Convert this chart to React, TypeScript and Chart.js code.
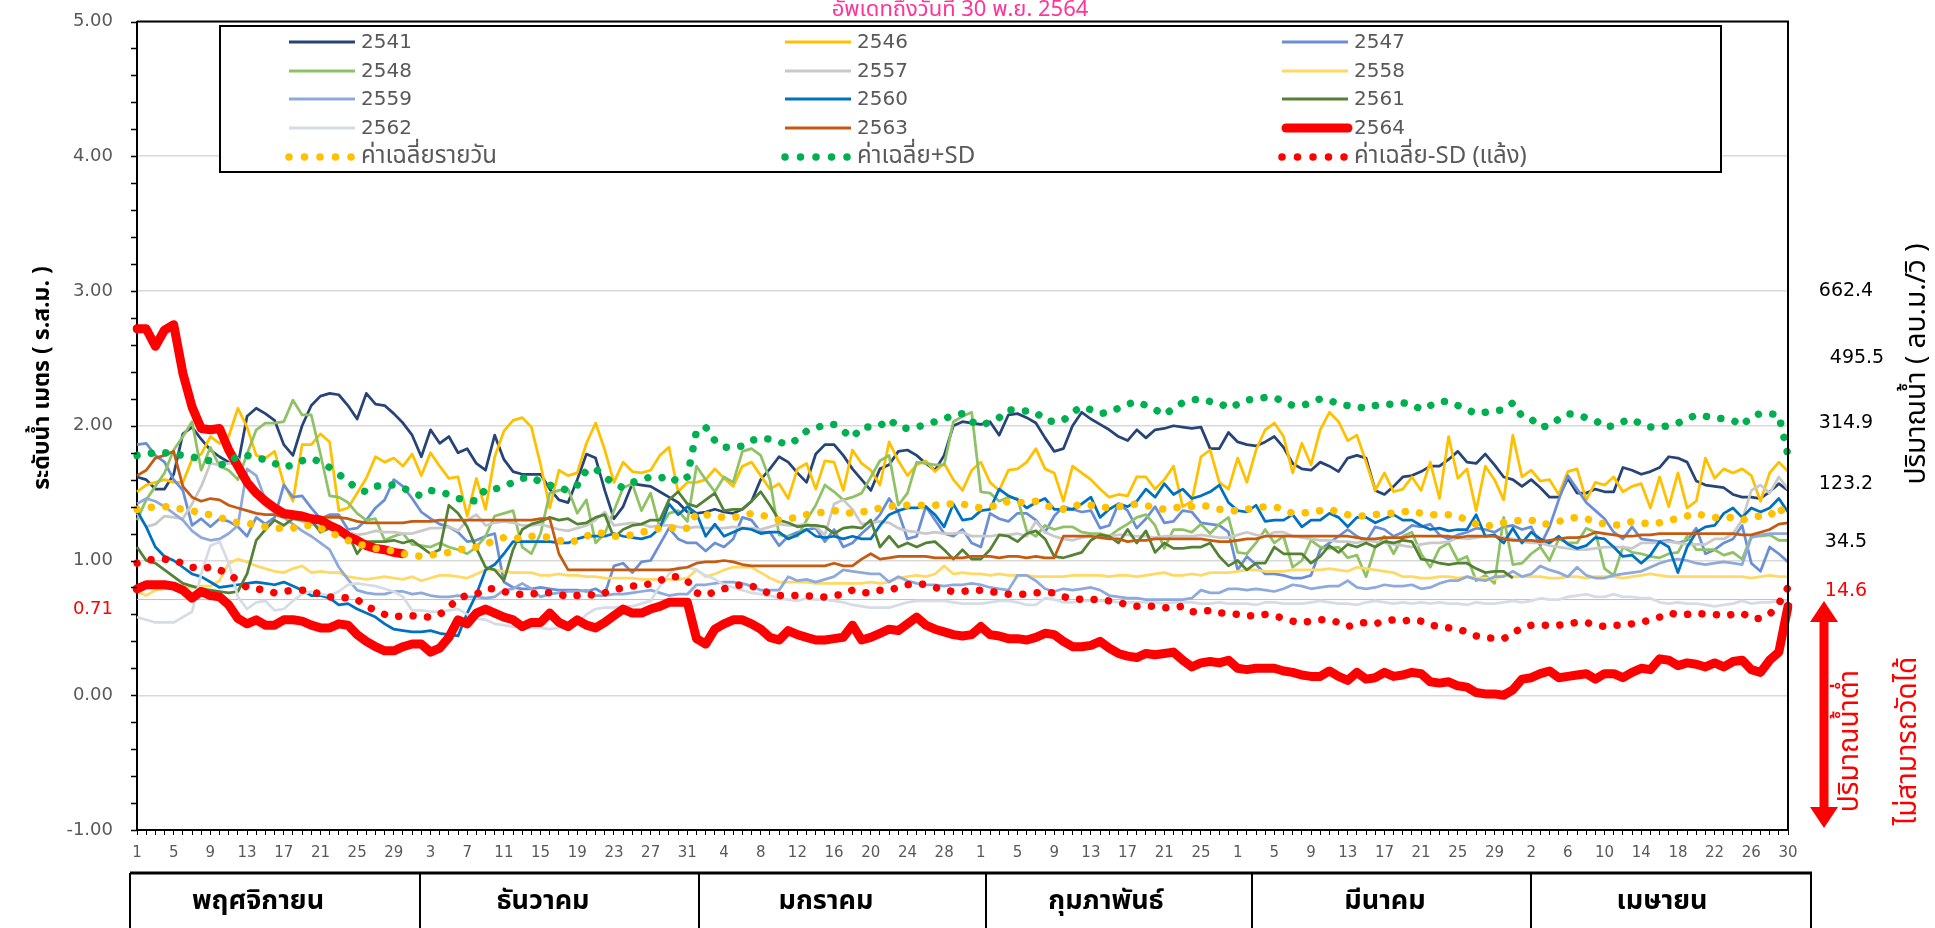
import React, { useEffect, useRef } from 'react';
import { Chart, registerables } from 'chart.js';

Chart.register(...registerables);

// ---------- categories ----------
const monthNames = ['พฤศจิกายน', 'ธันวาคม', 'มกราคม', 'กุมภาพันธ์', 'มีนาคม', 'เมษายน'];
const monthDays = [30, 31, 31, 28, 31, 30];
const dayLabels: string[] = monthDays.flatMap((n) => Array.from({ length: n }, (_, k) => String(k + 1)));

// ---------- series (water level, m r.s.m.) ----------
const y2541 = [
  1.62,1.60,1.53,1.53,1.64,1.94,1.99,1.90,1.82,1.77,
  1.73,1.71,2.07,2.13,2.09,2.04,1.86,1.78,2.00,2.15,
  2.22,2.24,2.23,2.15,2.05,2.24,2.16,2.15,2.09,2.02,
  1.93,1.77,1.97,1.87,1.92,1.80,1.83,1.72,1.67,1.93,
  1.75,1.66,1.64,1.64,1.64,1.53,1.45,1.43,1.60,1.79,
  1.76,1.52,1.31,1.40,1.57,1.56,1.55,1.51,1.47,1.43,
  1.36,1.35,1.36,1.38,1.36,1.35,1.38,1.44,1.60,1.68,
  1.77,1.73,1.65,1.58,1.79,1.86,1.86,1.78,1.68,1.60,
  1.52,1.68,1.71,1.81,1.82,1.78,1.72,1.67,1.78,2.00,
  2.03,2.02,2.01,2.03,1.93,2.08,2.09,2.06,2.02,1.91,
  1.81,1.83,2.00,2.10,2.05,2.01,1.97,1.92,1.89,1.97,
  1.91,1.97,1.98,2.00,1.99,1.98,1.99,1.83,1.83,1.95,
  1.88,1.86,1.85,1.88,1.92,1.84,1.72,1.68,1.67,1.73,
  1.70,1.66,1.76,1.78,1.76,1.52,1.49,1.55,1.62,1.63,
  1.66,1.70,1.70,1.75,1.81,1.73,1.72,1.79,1.71,1.62,
  1.60,1.55,1.60,1.54,1.47,1.47,1.61,1.50,1.50,1.53,
  1.51,1.51,1.69,1.67,1.64,1.66,1.69,1.77,1.76,1.73,
  1.59,1.56,1.55,1.54,1.49,1.47,1.47,1.46,1.51,1.57,1.52,
];
const y2546 = [
  1.51,1.56,1.58,1.60,1.58,1.58,1.75,1.79,1.92,1.87,
  1.92,2.13,1.99,1.78,1.76,1.81,1.57,1.44,1.86,1.86,
  1.94,1.88,1.37,1.39,1.50,1.61,1.77,1.73,1.76,1.70,
  1.79,1.63,1.80,1.70,1.61,1.62,1.33,1.61,1.38,1.77,
  1.96,2.04,2.06,1.99,1.71,1.39,1.67,1.63,1.65,1.87,
  2.02,1.82,1.58,1.73,1.66,1.65,1.67,1.78,1.84,1.51,
  1.58,1.58,1.60,1.68,1.61,1.55,1.70,1.73,1.63,1.53,
  1.57,1.46,1.68,1.72,1.53,1.74,1.73,1.52,1.82,1.72,
  1.67,1.56,1.88,1.74,1.63,1.71,1.74,1.66,1.72,1.60,
  1.52,1.67,1.73,1.58,1.52,1.67,1.68,1.73,1.83,1.68,
  1.65,1.44,1.70,1.65,1.60,1.53,1.47,1.49,1.48,1.62,
  1.62,1.53,1.60,1.70,1.40,1.44,1.77,1.82,1.58,1.53,
  1.76,1.58,1.82,1.97,2.02,1.92,1.65,1.87,1.71,1.97,
  2.10,2.03,1.89,1.93,1.73,1.52,1.65,1.51,1.53,1.62,
  1.52,1.73,1.46,1.92,1.61,1.68,1.37,1.70,1.60,1.45,
  1.93,1.62,1.67,1.59,1.60,1.49,1.66,1.68,1.45,1.58,
  1.56,1.62,1.51,1.55,1.57,1.39,1.62,1.40,1.65,1.39,
  1.44,1.76,1.61,1.68,1.65,1.68,1.63,1.44,1.65,1.73,1.66,
];
const y2547 = [
  1.86,1.87,1.78,1.73,1.60,1.52,1.26,1.31,1.25,1.31,
  1.29,1.25,1.18,1.32,1.27,1.32,1.56,1.47,1.48,1.39,
  1.31,1.34,1.34,1.23,1.24,1.30,1.39,1.45,1.60,1.55,
  1.46,1.36,1.31,1.27,1.25,1.21,1.14,1.15,1.18,1.20,
  0.84,0.80,0.79,0.79,0.80,0.79,0.78,0.78,0.78,0.77,
  0.79,0.75,0.96,0.98,0.91,0.99,1.00,1.12,1.24,1.16,
  1.13,1.13,1.07,1.13,1.10,1.16,1.32,1.30,1.21,1.21,
  1.11,1.18,1.21,1.23,1.24,1.14,1.23,1.10,1.13,1.20,
  1.26,1.34,1.46,1.36,1.16,1.18,1.40,1.30,1.20,1.18,
  1.23,1.13,1.10,1.35,1.31,1.29,1.35,1.35,1.30,1.21,
  1.33,1.40,1.38,1.36,1.37,1.24,1.26,1.42,1.37,1.24,
  1.31,1.40,1.28,1.29,1.37,1.36,1.28,1.27,1.26,1.21,
  0.93,1.03,0.97,0.90,0.90,0.89,0.87,0.87,0.89,1.08,
  1.13,1.18,1.23,1.18,1.14,1.25,1.23,1.18,1.21,1.26,
  1.25,1.27,1.19,1.16,1.19,1.21,1.24,1.23,1.21,1.25,
  1.26,1.23,1.25,1.11,1.25,1.45,1.63,1.53,1.43,1.37,
  1.31,1.21,1.16,1.25,1.16,1.15,1.14,1.15,1.13,1.15,
  1.24,1.05,1.08,1.13,1.16,1.26,0.98,0.92,1.10,1.05,0.99,
];
const y2548 = [
  1.30,1.45,1.55,1.65,1.82,1.92,2.03,1.67,1.84,1.70,
  1.67,1.60,1.79,1.97,2.02,2.02,2.03,2.19,2.08,2.08,
  1.79,1.48,1.47,1.43,1.35,1.30,1.31,1.15,1.18,1.20,
  1.12,1.11,1.10,1.13,1.10,1.08,1.05,1.10,1.18,1.33,
  1.35,1.37,1.10,1.05,1.20,1.50,1.52,1.53,1.35,1.45,
  1.13,1.20,1.37,1.54,1.57,1.37,1.50,1.24,1.35,1.37,
  1.29,1.70,1.60,1.51,1.62,1.58,1.81,1.83,1.78,1.60,
  1.19,1.18,1.18,1.30,1.41,1.56,1.51,1.45,1.47,1.50,
  1.62,1.74,1.78,1.41,1.50,1.73,1.72,1.71,1.71,2.03,
  2.07,2.10,1.51,1.50,1.44,1.47,1.46,1.22,1.18,1.26,
  1.23,1.25,1.25,1.21,1.20,1.20,1.18,1.23,1.27,1.32,
  1.34,1.26,1.09,1.23,1.23,1.21,1.27,1.20,1.27,1.32,
  1.06,1.05,1.13,1.23,1.13,1.18,0.95,1.00,1.15,1.10,
  1.09,1.10,1.02,1.04,0.88,1.10,1.18,1.05,1.18,1.21,
  1.05,0.95,1.09,1.13,1.00,1.03,0.85,0.89,0.83,1.32,
  0.97,0.98,1.05,1.10,1.00,1.16,1.13,1.13,1.24,1.21,
  0.94,0.89,1.10,1.06,1.05,1.03,1.02,1.05,1.06,1.18,
  1.08,1.08,1.08,1.04,1.06,1.01,1.18,1.18,1.19,1.15,1.15,
];
const y2557 = [
  1.35,1.25,1.27,1.33,1.32,1.31,1.42,1.55,1.72,1.71,
  1.72,1.76,1.60,1.50,1.40,1.36,1.33,1.31,1.29,1.27,
  1.25,1.24,1.22,1.21,1.19,1.20,1.22,1.21,1.21,1.20,
  1.20,1.22,1.24,1.24,1.25,1.22,1.30,1.34,1.26,1.28,
  1.29,1.28,1.26,1.26,1.27,1.25,1.23,1.22,1.24,1.26,
  1.30,1.36,1.26,1.27,1.28,1.27,1.25,1.26,1.26,1.25,
  1.24,1.25,1.24,1.24,1.24,1.25,1.24,1.24,1.23,1.25,
  1.27,1.26,1.26,1.27,1.25,1.19,1.42,1.45,1.38,1.27,
  1.28,1.29,1.28,1.24,1.22,1.21,1.20,1.21,1.20,1.20,
  1.21,1.18,1.18,1.18,1.19,1.19,1.20,1.18,1.29,1.21,
  1.18,1.16,1.15,1.17,1.18,1.18,1.18,1.19,1.19,1.18,
  1.18,1.17,1.18,1.18,1.18,1.18,1.19,1.18,1.17,1.17,
  1.19,1.21,1.19,1.18,1.21,1.21,1.18,1.17,1.16,1.15,
  1.15,1.14,1.14,1.13,1.15,1.14,1.13,1.12,1.11,1.10,
  1.12,1.13,1.13,1.14,1.17,1.16,1.17,1.18,1.18,1.17,
  1.16,1.14,1.13,1.13,1.11,1.10,1.09,1.08,1.08,1.09,
  1.10,1.10,1.10,1.09,1.13,1.13,1.13,1.14,1.13,1.12,
  1.12,1.12,1.16,1.16,1.20,1.30,1.52,1.56,1.50,1.62,1.53,
];
const y2558 = [
  0.77,0.74,0.78,0.79,0.81,0.80,0.80,0.81,0.81,0.85,
  0.98,1.01,0.99,0.96,0.94,0.92,0.91,0.94,0.96,0.91,
  0.92,0.91,0.91,0.88,0.87,0.86,0.87,0.88,0.87,0.86,
  0.88,0.85,0.87,0.89,0.89,0.88,0.87,0.90,0.93,0.93,
  0.92,0.91,0.91,0.91,0.89,0.89,0.90,0.89,0.89,0.88,
  0.88,0.87,0.87,0.87,0.87,0.86,0.86,0.86,0.86,0.86,
  0.87,0.93,0.88,0.90,0.93,0.95,0.95,0.95,0.91,0.87,
  0.84,0.84,0.84,0.84,0.83,0.83,0.83,0.83,0.83,0.83,
  0.84,0.83,0.84,0.87,0.88,0.89,0.88,0.90,0.96,0.90,
  0.91,0.90,0.90,0.89,0.90,0.89,0.89,0.89,0.88,0.88,
  0.88,0.88,0.89,0.89,0.89,0.89,0.88,0.89,0.89,0.88,
  0.89,0.90,0.91,0.89,0.89,0.90,0.89,0.91,0.91,0.91,
  0.92,0.93,0.93,0.92,0.92,0.92,0.93,0.93,0.93,0.93,
  0.94,0.93,0.92,0.95,0.94,0.93,0.92,0.91,0.88,0.88,
  0.87,0.87,0.88,0.88,0.87,0.88,0.87,0.87,0.86,0.89,
  0.88,0.88,0.88,0.88,0.87,0.87,0.88,0.88,0.87,0.88,
  0.88,0.88,0.87,0.88,0.89,0.90,0.89,0.88,0.88,0.88,
  0.88,0.88,0.88,0.88,0.88,0.88,0.87,0.88,0.89,0.88,0.88,
];
const y2559 = [
  1.42,1.46,1.44,1.40,1.35,1.30,1.22,1.17,1.15,1.16,
  1.20,1.26,1.68,1.63,1.45,1.35,1.32,1.27,1.22,1.18,
  1.13,1.08,0.95,0.86,0.78,0.76,0.75,0.75,0.77,0.77,
  0.75,0.76,0.74,0.73,0.73,0.74,0.73,0.73,0.72,0.73,
  0.78,0.79,0.83,0.79,0.73,0.75,0.76,0.77,0.77,0.78,
  0.74,0.74,0.75,0.75,0.76,0.77,0.78,0.76,0.74,0.75,
  0.75,0.82,0.82,0.83,0.84,0.84,0.83,0.81,0.78,0.78,
  0.78,0.88,0.85,0.86,0.84,0.86,0.88,0.93,0.92,0.91,
  0.90,0.90,0.84,0.88,0.85,0.83,0.82,0.82,0.81,0.82,
  0.82,0.83,0.82,0.80,0.79,0.78,0.89,0.89,0.85,0.79,
  0.77,0.79,0.78,0.79,0.80,0.78,0.74,0.73,0.72,0.72,
  0.71,0.71,0.71,0.71,0.71,0.72,0.78,0.76,0.76,0.79,
  0.79,0.78,0.79,0.78,0.77,0.79,0.82,0.81,0.79,0.80,
  0.81,0.81,0.85,0.80,0.79,0.80,0.82,0.81,0.81,0.82,
  0.79,0.80,0.83,0.85,0.85,0.88,0.86,0.85,0.88,0.88,
  0.92,0.88,0.90,0.96,0.93,0.91,0.88,0.95,0.89,0.87,
  0.87,0.89,0.90,0.91,0.92,0.95,0.98,1.00,1.01,1.00,
  0.98,0.97,0.98,0.99,0.98,0.97,1.17,1.19,1.20,1.20,1.20,
];
const y2560 = [
  1.37,1.25,1.10,1.03,1.00,0.95,0.90,0.88,0.84,0.80,
  0.81,0.82,0.83,0.84,0.83,0.82,0.84,0.81,0.78,0.74,
  0.74,0.72,0.67,0.68,0.64,0.61,0.58,0.53,0.49,0.48,
  0.47,0.47,0.48,0.46,0.45,0.44,0.61,0.75,0.93,0.97,
  1.05,1.14,1.14,1.14,1.14,1.14,1.13,1.13,1.16,1.18,
  1.18,1.18,1.20,1.18,1.17,1.16,1.18,1.24,1.42,1.34,
  1.40,1.35,1.18,1.27,1.18,1.21,1.24,1.23,1.20,1.21,
  1.21,1.16,1.19,1.23,1.18,1.17,1.18,1.16,1.18,1.16,
  1.16,1.26,1.34,1.37,1.39,1.39,1.40,1.34,1.25,1.42,
  1.30,1.31,1.37,1.38,1.53,1.48,1.45,1.39,1.43,1.46,
  1.38,1.38,1.38,1.42,1.47,1.32,1.38,1.42,1.40,1.44,
  1.53,1.47,1.57,1.49,1.53,1.46,1.48,1.51,1.56,1.43,
  1.37,1.36,1.41,1.29,1.30,1.30,1.34,1.25,1.30,1.30,
  1.35,1.32,1.25,1.32,1.32,1.28,1.31,1.34,1.30,1.30,
  1.26,1.23,1.24,1.22,1.23,1.23,1.34,1.18,1.19,1.13,
  1.24,1.13,1.21,1.16,1.13,1.18,1.12,1.09,1.11,1.17,
  1.16,1.10,1.03,1.04,0.98,1.04,1.14,1.10,0.91,1.10,
  1.21,1.25,1.26,1.35,1.39,1.32,1.39,1.36,1.39,1.46,1.36,
];
const y2561 = [
  1.10,1.00,0.98,0.93,0.88,0.83,0.81,0.79,0.78,0.77,
  0.76,0.77,0.90,1.15,1.23,1.30,1.26,1.31,1.30,1.30,
  1.21,1.24,1.23,1.20,1.05,1.14,1.14,1.14,1.15,1.13,
  1.15,1.10,1.05,1.08,1.41,1.35,1.25,1.09,0.95,0.93,
  0.85,1.08,1.23,1.27,1.29,1.32,1.30,1.31,1.27,1.28,
  1.32,1.34,1.17,1.23,1.26,1.27,1.30,1.30,1.45,1.51,
  1.42,1.40,1.45,1.50,1.37,1.38,1.38,1.44,1.51,1.41,
  1.30,1.28,1.25,1.26,1.26,1.25,1.20,1.24,1.25,1.24,
  1.30,1.10,1.18,1.10,1.13,1.10,1.13,1.14,1.08,1.01,
  1.08,1.01,1.01,1.08,1.19,1.18,1.14,1.20,1.22,1.16,
  1.03,1.02,1.04,1.06,1.15,1.19,1.18,1.13,1.23,1.13,
  1.22,1.06,1.13,1.09,1.09,1.10,1.10,1.13,1.03,0.96,
  1.00,0.93,0.98,0.98,1.10,1.05,1.05,1.05,0.98,1.03,
  1.11,1.06,1.12,1.10,1.13,1.10,1.14,1.13,1.15,1.14,
  1.01,1.00,0.98,0.97,0.98,0.98,0.94,0.91,0.92,0.92,
  0.87,
  ...Array(30).fill(null),
];
const y2562 = [
  0.58,0.56,0.54,0.54,0.54,0.58,0.62,0.90,1.11,1.14,
  0.98,0.73,0.64,0.69,0.70,0.63,0.64,0.70,0.75,0.77,
  0.75,0.74,0.77,0.82,0.83,0.82,0.81,0.79,0.77,0.73,
  0.63,0.63,0.62,0.62,0.63,0.64,0.60,0.57,0.56,0.53,
  0.52,0.51,0.51,0.50,0.50,0.49,0.50,0.50,0.53,0.60,
  0.64,0.65,0.65,0.66,0.66,0.68,0.70,0.81,0.90,0.95,
  0.95,0.93,0.89,0.86,0.82,0.80,0.78,0.76,0.75,0.74,
  0.72,0.71,0.70,0.72,0.71,0.71,0.70,0.69,0.67,0.66,
  0.65,0.65,0.65,0.67,0.69,0.70,0.70,0.70,0.70,0.69,
  0.68,0.68,0.68,0.69,0.70,0.70,0.69,0.67,0.67,0.72,
  0.71,0.69,0.69,0.70,0.70,0.70,0.70,0.69,0.69,0.69,
  0.69,0.69,0.68,0.69,0.69,0.69,0.68,0.68,0.69,0.68,
  0.68,0.68,0.67,0.69,0.69,0.68,0.68,0.68,0.69,0.70,
  0.69,0.68,0.68,0.67,0.69,0.70,0.69,0.68,0.69,0.68,
  0.69,0.68,0.69,0.68,0.68,0.67,0.69,0.68,0.68,0.69,
  0.70,0.69,0.70,0.72,0.71,0.71,0.73,0.74,0.75,0.73,
  0.73,0.75,0.73,0.73,0.72,0.72,0.69,0.68,0.69,0.68,
  0.68,0.67,0.66,0.67,0.68,0.70,0.68,0.69,0.69,0.70,0.70,
];
const y2563 = [
  1.63,1.67,1.76,1.78,1.81,1.55,1.47,1.44,1.46,1.45,
  1.41,1.39,1.37,1.35,1.34,1.34,1.32,1.32,1.32,1.32,
  1.32,1.32,1.32,1.31,1.29,1.28,1.28,1.28,1.28,1.28,
  1.29,1.29,1.29,1.30,1.30,1.30,1.30,1.30,1.30,1.30,
  1.30,1.30,1.30,1.30,1.31,1.31,1.05,0.93,0.93,0.93,
  0.93,0.93,0.93,0.93,0.93,0.93,0.93,0.93,0.93,0.94,
  0.95,0.98,0.99,0.99,1.00,0.99,0.97,0.96,0.96,0.96,
  0.96,0.96,0.96,0.96,0.96,0.96,0.98,0.96,0.96,1.01,
  1.05,1.01,1.02,1.03,1.03,1.03,1.03,1.02,1.02,1.02,
  1.02,1.03,1.03,1.03,1.02,1.03,1.03,1.02,1.03,1.02,
  1.02,1.18,1.18,1.18,1.18,1.17,1.16,1.16,1.14,1.15,
  1.15,1.16,1.16,1.16,1.16,1.16,1.16,1.15,1.14,1.14,
  1.15,1.16,1.16,1.18,1.18,1.18,1.18,1.18,1.18,1.18,
  1.18,1.18,1.18,1.17,1.16,1.16,1.17,1.17,1.17,1.18,
  1.18,1.18,1.18,1.18,1.17,1.18,1.18,1.18,1.18,1.16,
  1.15,1.15,1.15,1.14,1.15,1.16,1.17,1.17,1.18,1.21,
  1.20,1.19,1.18,1.18,1.19,1.19,1.20,1.20,1.20,1.20,
  1.20,1.20,1.20,1.20,1.20,1.19,1.19,1.21,1.23,1.27,1.28,
];
const y2564 = [
  2.72,2.72,2.59,2.71,2.75,2.39,2.14,1.98,1.97,1.98,
  1.82,1.70,1.58,1.50,1.44,1.39,1.35,1.34,1.33,1.31,
  1.30,1.26,1.23,1.18,1.15,1.11,1.09,1.08,1.06,1.05,
  ...Array(151).fill(null),
];
const yLowest = [
  0.79,0.82,0.82,0.82,0.81,0.78,0.72,0.77,0.74,0.73,
  0.67,0.57,0.53,0.56,0.52,0.52,0.56,0.56,0.55,0.52,
  0.50,0.50,0.53,0.52,0.45,0.40,0.36,0.33,0.33,0.36,
  0.38,0.38,0.32,0.35,0.43,0.56,0.53,0.61,0.64,0.61,
  0.58,0.56,0.51,0.54,0.54,0.61,0.54,0.51,0.56,0.52,
  0.50,0.54,0.59,0.64,0.61,0.61,0.64,0.66,0.69,0.69,
  0.69,0.42,0.38,0.49,0.53,0.56,0.56,0.53,0.49,0.43,
  0.41,0.48,0.45,0.43,0.41,0.41,0.42,0.43,0.52,0.41,
  0.43,0.46,0.49,0.48,0.53,0.58,0.52,0.49,0.47,0.45,
  0.44,0.45,0.51,0.45,0.44,0.42,0.42,0.41,0.43,0.46,
  0.45,0.40,0.36,0.36,0.37,0.40,0.35,0.31,0.29,0.28,
  0.31,0.30,0.31,0.32,0.26,0.21,0.24,0.25,0.24,0.26,
  0.20,0.19,0.20,0.20,0.20,0.18,0.17,0.15,0.14,0.14,
  0.18,0.14,0.11,0.17,0.12,0.13,0.17,0.14,0.15,0.17,
  0.16,0.10,0.09,0.10,0.07,0.06,0.02,0.01,0.01,0.00,
  0.04,0.12,0.13,0.16,0.18,0.13,0.14,0.15,0.16,0.12,
  0.16,0.16,0.13,0.17,0.20,0.19,0.27,0.26,0.22,0.24,
  0.23,0.21,0.24,0.21,0.25,0.26,0.19,0.17,0.26,0.32,0.66,
];
const yMean = [
  1.38,1.39,1.40,1.40,1.39,1.38,1.37,1.35,1.34,1.32,
  1.30,1.28,1.28,1.26,1.25,1.24,1.24,1.24,1.26,1.26,
  1.24,1.21,1.18,1.15,1.12,1.11,1.09,1.08,1.07,1.05,
  1.04,1.03,1.04,1.05,1.06,1.08,1.09,1.10,1.12,1.15,
  1.17,1.16,1.17,1.18,1.18,1.17,1.15,1.13,1.15,1.18,
  1.21,1.20,1.18,1.18,1.19,1.21,1.22,1.24,1.25,1.23,
  1.24,1.35,1.34,1.33,1.32,1.32,1.33,1.35,1.34,1.32,
  1.30,1.31,1.32,1.34,1.35,1.36,1.37,1.36,1.35,1.36,
  1.37,1.39,1.40,1.41,1.41,1.41,1.41,1.41,1.42,1.42,
  1.42,1.40,1.39,1.40,1.41,1.44,1.43,1.43,1.44,1.41,
  1.39,1.38,1.40,1.42,1.41,1.40,1.39,1.40,1.41,1.42,
  1.41,1.39,1.38,1.39,1.40,1.40,1.41,1.40,1.38,1.37,
  1.37,1.38,1.39,1.40,1.40,1.38,1.35,1.35,1.36,1.37,
  1.38,1.36,1.34,1.33,1.33,1.34,1.35,1.35,1.36,1.37,
  1.35,1.34,1.34,1.34,1.33,1.30,1.27,1.25,1.27,1.28,
  1.29,1.30,1.30,1.27,1.27,1.29,1.31,1.32,1.31,1.29,
  1.27,1.26,1.27,1.29,1.28,1.27,1.28,1.30,1.31,1.33,
  1.35,1.33,1.32,1.32,1.32,1.30,1.32,1.33,1.33,1.40,1.30,
];
const yMeanPlusSD = [
  1.78,1.79,1.80,1.80,1.79,1.78,1.77,1.75,1.74,1.71,
  1.72,1.78,1.78,1.76,1.75,1.72,1.69,1.71,1.74,1.76,
  1.73,1.69,1.64,1.59,1.53,1.51,1.55,1.56,1.56,1.54,
  1.50,1.48,1.52,1.51,1.49,1.46,1.45,1.44,1.53,1.53,
  1.55,1.58,1.61,1.62,1.58,1.56,1.54,1.52,1.56,1.67,
  1.68,1.62,1.57,1.54,1.58,1.60,1.62,1.61,1.63,1.58,
  1.62,1.96,1.99,1.89,1.84,1.84,1.85,1.89,1.91,1.90,
  1.88,1.86,1.90,1.96,1.98,2.01,2.01,1.96,1.91,1.99,
  1.99,2.00,2.05,1.99,1.98,1.99,2.01,2.03,2.05,2.08,
  2.09,2.03,2.00,2.03,2.06,2.12,2.11,2.11,2.10,2.04,
  2.03,2.04,2.10,2.14,2.12,2.09,2.10,2.13,2.16,2.18,
  2.15,2.12,2.08,2.13,2.17,2.19,2.20,2.18,2.17,2.13,
  2.16,2.19,2.20,2.21,2.21,2.18,2.15,2.15,2.17,2.20,
  2.19,2.16,2.15,2.14,2.13,2.15,2.16,2.16,2.17,2.16,
  2.12,2.15,2.18,2.18,2.15,2.12,2.09,2.10,2.11,2.12,
  2.17,2.07,2.05,1.99,2.00,2.05,2.09,2.08,2.06,2.04,
  1.99,2.00,2.03,2.05,2.01,1.99,1.99,2.00,2.02,2.05,
  2.08,2.07,2.06,2.05,2.04,2.00,2.07,2.09,2.09,2.08,1.78,
];
const yMeanMinusSD = [
  0.98,1.00,1.01,1.01,1.00,0.98,0.95,0.94,0.95,0.93,
  0.90,0.85,0.80,0.79,0.78,0.76,0.77,0.78,0.78,0.77,
  0.75,0.73,0.73,0.72,0.71,0.66,0.63,0.60,0.58,0.59,
  0.59,0.58,0.58,0.60,0.65,0.72,0.74,0.75,0.79,0.79,
  0.77,0.75,0.75,0.75,0.76,0.76,0.75,0.73,0.74,0.75,
  0.74,0.76,0.78,0.80,0.81,0.81,0.83,0.85,0.88,0.88,
  0.85,0.76,0.74,0.77,0.79,0.81,0.82,0.81,0.79,0.75,
  0.74,0.74,0.74,0.74,0.73,0.73,0.74,0.75,0.78,0.76,
  0.76,0.78,0.78,0.80,0.82,0.83,0.82,0.80,0.78,0.77,
  0.77,0.78,0.78,0.77,0.76,0.75,0.75,0.75,0.76,0.76,
  0.76,0.73,0.72,0.71,0.71,0.71,0.70,0.69,0.67,0.66,
  0.66,0.66,0.65,0.65,0.66,0.62,0.62,0.63,0.61,0.61,
  0.60,0.59,0.59,0.60,0.59,0.57,0.55,0.54,0.55,0.56,
  0.56,0.54,0.51,0.53,0.54,0.53,0.55,0.56,0.55,0.56,
  0.55,0.52,0.51,0.50,0.49,0.47,0.44,0.43,0.42,0.42,
  0.46,0.50,0.52,0.52,0.52,0.52,0.53,0.54,0.54,0.52,
  0.51,0.52,0.52,0.53,0.54,0.56,0.58,0.61,0.60,0.60,
  0.61,0.60,0.60,0.59,0.60,0.61,0.57,0.57,0.60,0.68,0.80,
];

// right-hand discharge labels (m3/s) and the water levels they sit at
const flowLabels = ['662.4', '495.5', '314.9', '123.2', '34.5', '14.6'];
const flowLevels = [3.0, 2.5, 2.02, 1.57, 1.14, 0.77];
const criticalLevel = 0.71;

const THAI = "'Noto Sans Thai', 'Noto Sans Thai UI', Tahoma, 'Leelawadee UI', Loma, Garuda, Waree, Kinnari, 'DejaVu Sans', sans-serif";
const NUM = "'DejaVu Sans', Verdana, sans-serif";
const MIX = "'DejaVu Sans', 'Noto Sans Thai', Tahoma, Loma, Garuda, Waree, sans-serif";

type Kind = 'line' | 'thick' | 'dots';
interface Def { label: string; data: (number | null)[]; color: string; kind: Kind; legend: boolean }

const defs: Def[] = [
  { label: '2541', data: y2541, color: '#264478', kind: 'line', legend: true },
  { label: '2546', data: y2546, color: '#FFC000', kind: 'line', legend: true },
  { label: '2547', data: y2547, color: '#6B8FD6', kind: 'line', legend: true },
  { label: '2548', data: y2548, color: '#8FC165', kind: 'line', legend: true },
  { label: '2557', data: y2557, color: '#C9C9C9', kind: 'line', legend: true },
  { label: '2558', data: y2558, color: '#FFD966', kind: 'line', legend: true },
  { label: '2559', data: y2559, color: '#8EA9DB', kind: 'line', legend: true },
  { label: '2560', data: y2560, color: '#0070C0', kind: 'line', legend: true },
  { label: '2561', data: y2561, color: '#548235', kind: 'line', legend: true },
  { label: '2562', data: y2562, color: '#D6DCE5', kind: 'line', legend: true },
  { label: '2563', data: y2563, color: '#C55A11', kind: 'line', legend: true },
  { label: 'ต่ำสุด', data: yLowest, color: '#FF0000', kind: 'thick', legend: false },
  { label: '2564', data: y2564, color: '#FF0000', kind: 'thick', legend: true },
  { label: 'ค่าเฉลี่ยรายวัน', data: yMean, color: '#FFC000', kind: 'dots', legend: true },
  { label: 'ค่าเฉลี่ย+SD', data: yMeanPlusSD, color: '#00B050', kind: 'dots', legend: true },
  { label: 'ค่าเฉลี่ย-SD (แล้ง)', data: yMeanMinusSD, color: '#FF0000', kind: 'dots', legend: true },
];

const DOT_DASH = [0.001, 14.5];

function styleLine(ctx: CanvasRenderingContext2D, kind: Kind, color: string) {
  ctx.strokeStyle = color;
  if (kind === 'dots') {
    ctx.lineWidth = 7.5; ctx.lineCap = 'round'; ctx.setLineDash([0.001, 15.5]);
  } else if (kind === 'thick') {
    ctx.lineWidth = 9; ctx.lineCap = 'round'; ctx.setLineDash([]);
  } else {
    ctx.lineWidth = 3; ctx.lineCap = 'butt'; ctx.setLineDash([]);
  }
}

const annotations = {
  id: 'annotations',
  beforeDatasetsDraw(chart: any) {
    const { ctx, chartArea: a, scales } = chart;
    const py = scales.y.getPixelForValue(criticalLevel);
    ctx.save();
    ctx.strokeStyle = '#BFBFBF';
    ctx.lineWidth = 1;
    ctx.beginPath(); ctx.moveTo(a.left, py); ctx.lineTo(a.right, py); ctx.stroke();
    ctx.restore();
  },
  afterDraw(chart: any) {
    const { ctx, chartArea: a, scales } = chart;
    const y = scales.y;
    ctx.save();

    // plot border (top/right)
    ctx.strokeStyle = '#000'; ctx.lineWidth = 2;
    ctx.beginPath(); ctx.moveTo(a.left, a.top); ctx.lineTo(a.right, a.top); ctx.lineTo(a.right, a.bottom); ctx.stroke();

    // left axis minor/major ticks
    ctx.lineWidth = 1.5;
    for (let k = 0; k <= 30; k++) {
      const v = -1 + k * 0.2;
      const py = Math.round(y.getPixelForValue(v)) + 0.5;
      ctx.beginPath(); ctx.moveTo(a.left - 6, py); ctx.lineTo(a.left, py); ctx.stroke();
    }

    // title (top partly cut off)
    ctx.fillStyle = '#FF3399';
    ctx.font = `22px ${THAI}`;
    ctx.textAlign = 'center'; ctx.textBaseline = 'alphabetic';
    ctx.fillText('อัพเดทถึงวันที่ 30 พ.ย. 2564', 960, 16);

    // critical level label
    ctx.fillStyle = '#FF0000';
    ctx.font = `18px ${NUM}`;
    ctx.textAlign = 'right'; ctx.textBaseline = 'middle';
    ctx.fillText(criticalLevel.toFixed(2), 113, y.getPixelForValue(criticalLevel) + 10);

    // left axis title
    ctx.save();
    ctx.translate(44, 378); ctx.rotate(-Math.PI / 2);
    ctx.fillStyle = '#000'; ctx.font = `bold 23px ${THAI}`;
    ctx.textAlign = 'center'; ctx.textBaseline = 'middle';
    ctx.fillText('ระดับน้ำ เมตร ( ร.ส.ม. )', 0, 0);
    ctx.restore();

    // right axis title
    ctx.save();
    ctx.translate(1919, 364); ctx.rotate(-Math.PI / 2);
    ctx.fillStyle = '#000'; ctx.font = `28px ${THAI}`;
    ctx.textAlign = 'center'; ctx.textBaseline = 'middle';
    ctx.fillText('ปริมาณน้ำ ( ลบ.ม./วิ )', 0, 0);
    ctx.restore();

    // discharge labels
    ctx.font = `19px ${NUM}`;
    ctx.textAlign = 'center'; ctx.textBaseline = 'middle';
    flowLabels.forEach((t, k) => {
      ctx.fillStyle = k === flowLabels.length - 1 ? '#FF0000' : '#000';
      ctx.fillText(t, k === 1 ? 1857 : 1846, y.getPixelForValue(flowLevels[k]));
    });

    // red double arrow
    const ax = 1824, top = y.getPixelForValue(0.70), bot = a.bottom - 2;
    ctx.fillStyle = '#FF0000';
    ctx.fillRect(ax - 4.5, top + 18, 9, bot - top - 36);
    ctx.beginPath(); ctx.moveTo(ax, top); ctx.lineTo(ax - 14, top + 21); ctx.lineTo(ax + 14, top + 21); ctx.closePath(); ctx.fill();
    ctx.beginPath(); ctx.moveTo(ax, bot); ctx.lineTo(ax - 14, bot - 21); ctx.lineTo(ax + 14, bot - 21); ctx.closePath(); ctx.fill();

    // red rotated notes
    ctx.save();
    ctx.translate(1852, 741); ctx.rotate(-Math.PI / 2);
    ctx.font = `28px ${THAI}`; ctx.textAlign = 'center'; ctx.textBaseline = 'middle';
    ctx.fillText('ปริมาณน้ำต่ำ', 0, 0);
    ctx.fillText('ไม่สามารถวัดได้', 0, 58);
    ctx.restore();

    // legend
    const L = { left: 220, top: 26, right: 1721, bottom: 172 };
    ctx.fillStyle = '#FFFFFF';
    ctx.fillRect(L.left, L.top, L.right - L.left, L.bottom - L.top);
    ctx.strokeStyle = '#000'; ctx.lineWidth = 2; ctx.setLineDash([]);
    ctx.strokeRect(L.left, L.top, L.right - L.left, L.bottom - L.top);
    const cols = [289, 785, 1282];
    const rows = [42, 71, 99, 128, 157];
    const items = defs.filter((d) => d.legend);
    items.forEach((d, k) => {
      const cx = cols[k % 3], cy = rows[Math.floor(k / 3)];
      ctx.save();
      styleLine(ctx, d.kind, d.color);
      ctx.beginPath(); ctx.moveTo(cx + (d.kind === 'thick' ? 4 : 0), cy); ctx.lineTo(cx + (d.kind === 'dots' ? 63 : 66), cy); ctx.stroke();
      ctx.restore();
      ctx.fillStyle = '#595959';
      const thai = /[\u0E00-\u0E7F]/.test(d.label);
      ctx.font = thai ? `24px ${THAI}` : `20px ${MIX}`;
      ctx.textAlign = 'left'; ctx.textBaseline = 'middle';
      ctx.fillText(d.label, cx + 72, cy + 1);
    });

    // month table
    const xs = [130, 420, 699, 986, 1252, 1531, 1811];
    const tTop = 873;
    ctx.strokeStyle = '#000';
    ctx.lineWidth = 3;
    ctx.beginPath(); ctx.moveTo(xs[0], tTop); ctx.lineTo(xs[xs.length - 1] + 1, tTop); ctx.stroke();
    ctx.lineWidth = 2;
    xs.forEach((x) => { ctx.beginPath(); ctx.moveTo(x, tTop); ctx.lineTo(x, 928); ctx.stroke(); });
    const centers = [258, 543, 826, 1106, 1385, 1662];
    ctx.fillStyle = '#000';
    ctx.font = `bold 27px ${THAI}`;
    ctx.textAlign = 'center'; ctx.textBaseline = 'middle';
    monthNames.forEach((m, k) => ctx.fillText(m, centers[k], 904));

    ctx.restore();
  },
};

export default function App() {
  const ref = useRef<HTMLCanvasElement | null>(null);
  useEffect(() => {
    if (!ref.current) return;
    const datasets = defs.map((d, k) => ({
      label: d.label,
      data: d.data,
      borderColor: d.color,
      backgroundColor: d.color,
      borderWidth: d.kind === 'thick' ? 9 : d.kind === 'dots' ? 7.5 : 2.75,
      borderDash: d.kind === 'dots' ? DOT_DASH : [],
      borderCapStyle: d.kind === 'line' ? 'butt' : 'round',
      borderJoinStyle: 'round',
      pointRadius: 0,
      pointHoverRadius: 0,
      tension: 0,
      fill: false,
      spanGaps: false,
      order: 100 - k,
    }));
    const chart = new Chart(ref.current, {
      type: 'line',
      data: { labels: dayLabels, datasets: datasets as any },
      options: {
        animation: false,
        responsive: false,
        devicePixelRatio: 1,
        events: [],
        layout: { padding: { left: 0, top: 21.5, right: 147, bottom: 0 } },
        plugins: { legend: { display: false }, tooltip: { enabled: false }, title: { display: false } },
        scales: {
          x: {
            type: 'category',
            offset: false,
            grid: { drawOnChartArea: false, drawTicks: true, tickLength: 5, color: '#000', tickColor: '#000', lineWidth: 1 },
            border: { display: true, color: '#000', width: 2 },
            ticks: {
              autoSkip: false, maxRotation: 0, minRotation: 0, padding: 9,
              color: '#595959', font: { family: NUM, size: 15 },
              callback: (_v: any, i: number) => (i % 4 === 0 ? dayLabels[i] : ''),
            },
            afterFit: (s: any) => { s.height = 98; s.paddingLeft = 0; s.paddingRight = 0; },
          },
          y: {
            type: 'linear', min: -1, max: 5,
            grid: { color: '#D9D9D9', lineWidth: 1.5, drawTicks: false },
            border: { display: true, color: '#000', width: 2 },
            ticks: {
              stepSize: 1, padding: 24, color: '#595959', font: { family: NUM, size: 18 },
              callback: (v: any) => Number(v).toFixed(2),
            },
            afterFit: (s: any) => { s.width = 137; s.paddingTop = 0; s.paddingBottom = 0; },
          },
        },
      },
      plugins: [annotations],
    });
    return () => chart.destroy();
  }, []);
  return (
    <div style={{ position: 'fixed', left: 0, top: 0, width: 1935, height: 928, background: '#fff' }}>
      <canvas ref={ref} width={1935} height={928} style={{ width: 1935, height: 928 }} />
    </div>
  );
}
